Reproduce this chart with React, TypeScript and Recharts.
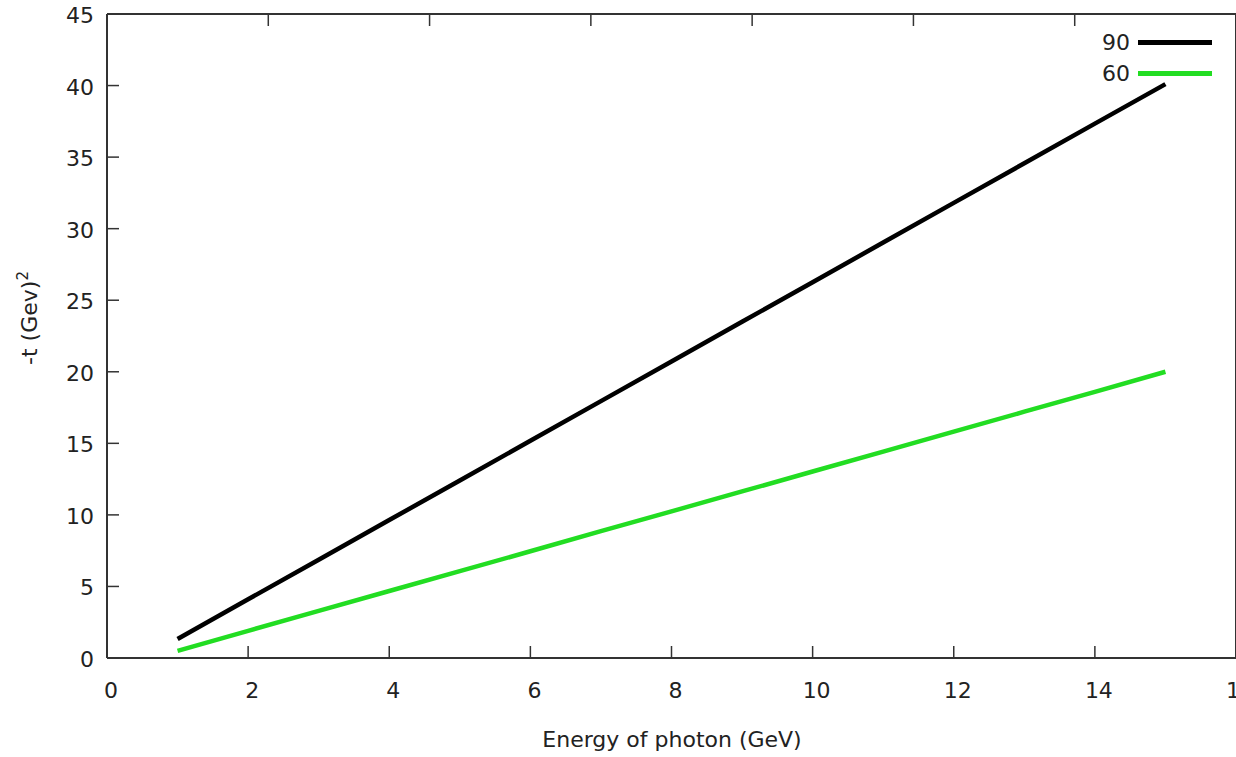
import React from 'react';
import { LineChart, Line, XAxis, YAxis, Legend } from 'recharts';

const energy = [1, 2, 3, 4, 5, 6, 7, 8, 9, 10, 11, 12, 13, 14, 15];
const t90 = [1.33, 4.1, 6.87, 9.64, 12.4, 15.18, 17.95, 20.72, 23.49, 26.26, 29.03, 31.8, 34.57, 37.34, 40.1];
const t60 = [0.5, 1.9, 3.29, 4.68, 6.07, 7.46, 8.86, 10.25, 11.64, 13.03, 14.42, 15.82, 17.21, 18.6, 20.0];
const seriesNames = ['90', '60'];
const xTicks = [0, 2, 4, 6, 8, 10, 12, 14, 16];
const yTicks = [0, 5, 10, 15, 20, 25, 30, 35, 40, 45];

const data = energy.map((e, i) => ({ e, a90: t90[i], a60: t60[i] }));

const FONT = '"DejaVu Sans", sans-serif';
const TXT = '#222';
const AX = '#333';
const TICK = 12;

const BottomTick = (p: any) => (
  <g>
    <line x1={p.x} x2={p.x} y1={p.y} y2={p.y - TICK} stroke={AX} strokeWidth={1.5} />
    <text x={p.x + 4} y={p.y + 40} textAnchor="middle" fontSize={22} fontFamily={FONT} fill={TXT}>
      {p.payload.value}
    </text>
  </g>
);

const LeftTick = (p: any) => (
  <g>
    <line x1={p.x} x2={p.x + TICK} y1={p.y} y2={p.y} stroke={AX} strokeWidth={1.5} />
    <text x={p.x - 13} y={p.y + 9} textAnchor="end" fontSize={22} fontFamily={FONT} fill={TXT}>
      {p.payload.value}
    </text>
  </g>
);

const TopTick = (p: any) => (
  <line x1={p.x} x2={p.x} y1={p.y} y2={p.y + TICK} stroke={AX} strokeWidth={1.5} />
);

const RightTick = (p: any) => (
  <line x1={p.x} x2={p.x - TICK} y1={p.y} y2={p.y} stroke={AX} strokeWidth={1.5} />
);

const renderLegend = (props: any) => {
  const items = [...props.payload].sort(
    (a: any, b: any) => seriesNames.indexOf(a.value) - seriesNames.indexOf(b.value)
  );
  return (
    <div style={{ fontFamily: FONT, fontSize: 22, color: TXT }}>
      {items.map((item: any) => (
        <div key={item.value} style={{ display: 'flex', alignItems: 'center', height: 31 }}>
          <span style={{ width: 30, textAlign: 'right', marginRight: 8 }}>{item.value}</span>
          <span style={{ display: 'inline-block', width: 74, height: 5, background: item.color }} />
        </div>
      ))}
    </div>
  );
};

export default function App() {
  return (
    <div style={{ position: 'absolute', left: 0, top: 0, width: 1236, height: 757, overflow: 'hidden', background: '#fff' }}>
      <LineChart width={1260} height={757} data={data} margin={{ top: 13, right: 23, bottom: 39, left: 0 }}>
        <XAxis
          dataKey="e"
          type="number"
          domain={[0, 16]}
          ticks={xTicks}
          interval={0}
          height={60}
          tickSize={0}
          tickMargin={0}
          tickLine={false}
          tick={<BottomTick />}
          axisLine={{ stroke: AX, strokeWidth: 2 }}
        />
        <XAxis
          xAxisId="top"
          orientation="top"
          type="number"
          domain={[0, 16]}
          ticks={xTicks}
          interval={0}
          height={1}
          tickSize={0}
          tickMargin={0}
          tickLine={false}
          tick={<TopTick />}
          axisLine={{ stroke: AX, strokeWidth: 2 }}
        />
        <YAxis
          type="number"
          domain={[0, 45]}
          ticks={yTicks}
          interval={0}
          width={107}
          tickSize={0}
          tickMargin={0}
          tickLine={false}
          tick={<LeftTick />}
          axisLine={{ stroke: AX, strokeWidth: 2 }}
          label={() => (
            <text
              x={37}
              y={318}
              transform="rotate(-90 37 318)"
              textAnchor="middle"
              fontSize={22}
              fontFamily={FONT}
              fill={TXT}
            >
              -t (Gev)<tspan dy={-9} fontSize={15}>2</tspan>
            </text>
          )}
        />
        <YAxis
          yAxisId="right"
          orientation="right"
          type="number"
          domain={[0, 45]}
          ticks={yTicks}
          interval={0}
          width={1}
          tickSize={0}
          tickMargin={0}
          tickLine={false}
          tick={<RightTick />}
          axisLine={{ stroke: AX, strokeWidth: 2 }}
        />
        <Legend
          layout="vertical"
          align="center"
          verticalAlign="middle"
          content={renderLegend}
          wrapperStyle={{ position: 'absolute', left: 1100, top: 27, width: 130 }}
        />
        <Line
          name="90"
          dataKey="a90"
          stroke="#000"
          strokeWidth={4.5}
          dot={false}
          isAnimationActive={false}
        />
        <Line
          name="60"
          dataKey="a60"
          stroke="#22dd22"
          strokeWidth={4.5}
          dot={false}
          isAnimationActive={false}
        />
      </LineChart>
      <div
        style={{
          position: 'absolute',
          left: 0,
          width: 1344,
          top: 727,
          textAlign: 'center',
          fontFamily: FONT,
          fontSize: 22,
          color: TXT,
        }}
      >
        Energy of photon (GeV)
      </div>
    </div>
  );
}
